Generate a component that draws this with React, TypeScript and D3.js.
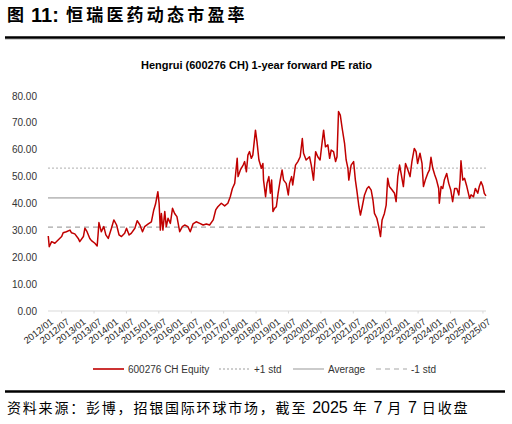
import { useEffect, useRef } from "react";
import * as d3 from "d3";

// Forward PE readings (date, value)
const dates = [
  "2012-01-04", "2012-01-15", "2012-02-11", "2012-03-18", "2012-04-24", "2012-06-03",
  "2012-06-20", "2012-07-26", "2012-09-05", "2012-09-22", "2012-10-29", "2012-12-07",
  "2012-12-24", "2013-02-03", "2013-02-20", "2013-03-16", "2013-04-16", "2013-05-05",
  "2013-06-12", "2013-07-08", "2013-07-18", "2013-07-28", "2013-08-24", "2013-09-21",
  "2013-10-14", "2013-11-10", "2013-12-16", "2014-01-12", "2014-02-12", "2014-03-12",
  "2014-04-08", "2014-05-14", "2014-06-04", "2014-07-03", "2014-07-27", "2014-09-06",
  "2014-10-02", "2014-11-02", "2014-12-01", "2014-12-25", "2015-02-04", "2015-03-11",
  "2015-04-07", "2015-04-27", "2015-05-23", "2015-06-06", "2015-06-20", "2015-07-02",
  "2015-07-19", "2015-08-09", "2015-08-26", "2015-09-15", "2015-10-11", "2015-11-04",
  "2015-11-28", "2015-12-24", "2016-01-24", "2016-02-23", "2016-03-20", "2016-04-26",
  "2016-05-22", "2016-06-22", "2016-07-28", "2016-09-07", "2016-10-14", "2016-11-20",
  "2016-12-26", "2017-02-05", "2017-03-05", "2017-03-29", "2017-05-07", "2017-06-14",
  "2017-07-20", "2017-08-16", "2017-09-09", "2017-10-05", "2017-11-02", "2017-11-12",
  "2017-12-08", "2018-01-08", "2018-01-25", "2018-02-14", "2018-03-03", "2018-03-21",
  "2018-04-10", "2018-04-27", "2018-05-27", "2018-06-13", "2018-07-05", "2018-08-02",
  "2018-08-19", "2018-08-26", "2018-09-18", "2018-10-04", "2018-10-25", "2018-11-11",
  "2018-11-25", "2018-12-10", "2018-12-28", "2019-01-17", "2019-02-06", "2019-03-02",
  "2019-03-23", "2019-04-09", "2019-05-08", "2019-06-01", "2019-06-15", "2019-07-08",
  "2019-07-21", "2019-08-21", "2019-09-17", "2019-10-13", "2019-11-06", "2019-11-20",
  "2019-12-19", "2020-01-26", "2020-02-15", "2020-03-11", "2020-04-04", "2020-04-28",
  "2020-05-24", "2020-06-17", "2020-07-03", "2020-07-24", "2020-08-20", "2020-09-09",
  "2020-09-26", "2020-10-23", "2020-11-15", "2020-12-01", "2020-12-18", "2021-01-07",
  "2021-01-28", "2021-02-24", "2021-03-14", "2021-04-03", "2021-04-13", "2021-05-09",
  "2021-06-06", "2021-06-26", "2021-07-12", "2021-08-05", "2021-08-22", "2021-09-11",
  "2021-10-07", "2021-11-04", "2021-11-25", "2021-12-21", "2022-01-10", "2022-01-27",
  "2022-02-23", "2022-03-16", "2022-04-05", "2022-04-23", "2022-05-19", "2022-06-08",
  "2022-06-25", "2022-07-14", "2022-08-14", "2022-09-10", "2022-09-28", "2022-10-17",
  "2022-11-06", "2022-11-23", "2022-12-19", "2023-01-12", "2023-02-08", "2023-03-04",
  "2023-03-25", "2023-04-21", "2023-05-11", "2023-05-28", "2023-06-24", "2023-07-17",
  "2023-08-02", "2023-08-23", "2023-09-19", "2023-10-09", "2023-10-26", "2023-11-15",
  "2023-12-08", "2023-12-28", "2024-01-21", "2024-01-28", "2024-02-17", "2024-03-07",
  "2024-03-24", "2024-04-20", "2024-05-13", "2024-06-05", "2024-06-26", "2024-07-19",
  "2024-08-12", "2024-09-04", "2024-09-18", "2024-09-28", "2024-10-18", "2024-11-07",
  "2024-12-03", "2025-01-03", "2025-01-20", "2025-02-16", "2025-03-09", "2025-04-05",
  "2025-04-22", "2025-05-12", "2025-06-01", "2025-06-18", "2025-07-07",
];

const peValues = [
  27.9, 23.9, 25.8, 25.2, 26.4, 27.7,
  29.1, 29.5, 30.1, 29.1, 28.7, 27.0,
  25.8, 27.7, 30.8, 29.5, 27.0, 26.2,
  25.2, 24.2, 28.3, 32.9, 29.5, 31.4,
  28.3, 27.0, 30.8, 33.9, 32.0, 28.3,
  27.7, 28.9, 30.8, 28.3, 28.9, 30.8,
  33.6, 32.0, 29.5, 31.4, 32.4, 33.2,
  37.6, 39.8, 44.4, 40.1, 30.1, 36.3,
  30.1, 37.0, 31.4, 34.5, 32.6, 38.2,
  36.3, 35.1, 29.5, 31.4, 32.0, 31.4,
  29.5, 32.4, 33.2, 32.6, 32.0, 32.4,
  32.0, 33.9, 37.6, 38.8, 40.1, 39.1,
  40.1, 42.5, 45.6, 47.5, 56.8, 50.0,
  52.5, 54.3, 55.6, 51.8, 58.0, 59.3,
  56.8, 58.0, 67.3, 63.0, 56.2, 53.1,
  54.9, 48.7, 42.5, 47.5, 50.0, 43.8,
  48.7, 37.0, 38.2, 38.8, 43.8, 48.7,
  52.5, 48.7, 47.5, 43.2, 47.5, 50.0,
  46.9, 54.3, 55.6, 57.4, 64.2, 58.7,
  56.2, 57.4, 54.3, 48.7, 59.3, 57.4,
  56.2, 63.0, 67.3, 61.1, 61.8, 56.8,
  59.9, 59.3, 55.6, 57.4, 74.2, 72.9,
  68.0, 62.4, 56.2, 53.1, 48.7, 54.3,
  55.6, 48.7, 45.0, 38.8, 35.7, 38.8,
  43.2, 45.6, 46.3, 45.0, 41.3, 36.3,
  34.5, 31.4, 27.7, 33.9, 36.3, 39.4,
  49.4, 46.3, 45.0, 43.8, 40.7, 50.0,
  54.3, 51.2, 46.3, 54.9, 52.5, 50.0,
  55.6, 60.5, 59.3, 54.9, 58.7, 54.9,
  46.3, 48.7, 51.2, 52.5, 57.2, 53.1,
  50.6, 48.7, 45.6, 40.1, 46.3, 45.6,
  48.7, 51.2, 47.5, 45.0, 40.7, 45.6,
  45.6, 43.2, 48.7, 55.9, 48.7, 49.4,
  46.3, 41.9, 43.2, 42.5, 45.6, 43.8,
  46.3, 48.1, 46.5, 43.8, 42.8,
];

const plusOneStd = 53.2;
const averagePE = 42.1;
const minusOneStd = 31.2;

const yTicks = [0, 10, 20, 30, 40, 50, 60, 70, 80];

const xLabels = [
  "2012/01", "2012/07", "2013/01", "2013/07", "2014/01", "2014/07", "2015/01",
  "2015/07", "2016/01", "2016/07", "2017/01", "2017/07", "2018/01", "2018/07",
  "2019/01", "2019/07", "2020/01", "2020/07", "2021/01", "2021/07", "2022/01",
  "2022/07", "2023/01", "2023/07", "2024/01", "2024/07", "2025/01", "2025/07",
];

const legendItems = [
  { label: "600276 CH Equity", color: "#c00000", dash: "", width: 1.6 },
  { label: "+1 std", color: "#bfbfbf", dash: "2,2", width: 1.3 },
  { label: "Average", color: "#bfbfbf", dash: "", width: 1.6 },
  { label: "-1 std", color: "#a6a6a6", dash: "5,4", width: 1.2 },
];

const FONT = "'Liberation Sans', Arial, Helvetica, sans-serif";
const CJK = "'Noto Sans CJK SC', 'Noto Sans', sans-serif";

interface Point {
  date: Date;
  value: number;
}

export default function App() {
  const svgRef = useRef<SVGSVGElement>(null);

  useEffect(() => {
    if (!svgRef.current) return;
    const svg = d3.select(svgRef.current);
    svg.selectAll("*").remove();

    const width = 512;
    const height = 424;
    const left = 48;
    const right = 486;
    const top = 96;
    const bottom = 311;

    svg.attr("width", width).attr("height", height);
    svg.append("rect").attr("width", width).attr("height", height).attr("fill", "#fff");

    const parse = d3.timeParse("%Y-%m-%d");
    const data: Point[] = dates.map((d, i) => ({ date: parse(d) as Date, value: peValues[i] }));

    const x = d3
      .scaleTime()
      .domain([parse("2012-01-01") as Date, parse("2025-07-07") as Date])
      .range([left, right]);
    const y = d3.scaleLinear().domain([0, 80]).range([bottom, top]);

    // Heading
    svg
      .append("text")
      .attr("x", 7)
      .attr("y", 21)
      .style("font-family", CJK)
      .style("font-size", "17px")
      .style("font-weight", "bold")
      .text("图");
    svg
      .append("text")
      .attr("x", 31)
      .attr("y", 21.5)
      .style("font-family", FONT)
      .style("font-size", "20px")
      .style("font-weight", "bold")
      .text("11:");
    svg
      .append("text")
      .attr("x", 66)
      .attr("y", 21)
      .style("font-family", CJK)
      .style("font-size", "17px")
      .style("font-weight", "bold")
      .style("letter-spacing", "3.2px")
      .text("恒瑞医药动态市盈率");

    svg
      .append("line")
      .attr("x1", 5)
      .attr("x2", 505)
      .attr("y1", 37.5)
      .attr("y2", 37.5)
      .attr("stroke", "#000")
      .attr("stroke-width", 2.5);
    svg
      .append("line")
      .attr("x1", 5)
      .attr("x2", 505)
      .attr("y1", 39.5)
      .attr("y2", 39.5)
      .attr("stroke", "#d0d0d0")
      .attr("stroke-width", 1);

    // Chart title
    svg
      .append("text")
      .attr("x", 256.5)
      .attr("y", 69)
      .attr("text-anchor", "middle")
      .style("font-family", FONT)
      .style("font-size", "11px")
      .style("font-weight", "bold")
      .attr("fill", "#000")
      .text("Hengrui (600276 CH) 1-year forward PE ratio");

    // Y axis labels
    svg
      .append("g")
      .selectAll("text")
      .data(yTicks)
      .join("text")
      .attr("x", 37)
      .attr("y", (d) => y(d))
      .attr("dy", "0.35em")
      .attr("text-anchor", "end")
      .style("font-family", FONT)
      .style("font-size", "10px")
      .attr("fill", "#333")
      .text((d) => d3.format(".2f")(d));

    // Baseline
    svg
      .append("line")
      .attr("x1", left)
      .attr("x2", right)
      .attr("y1", y(0))
      .attr("y2", y(0))
      .attr("stroke", "#d9d9d9")
      .attr("stroke-width", 1);

    // X labels and yearly tick marks
    const labelDates = xLabels.map((l) => d3.timeParse("%Y/%m")(l) as Date);
    svg
      .append("g")
      .selectAll("line")
      .data(labelDates.filter((d) => d.getMonth() === 6))
      .join("line")
      .attr("x1", (d) => x(d) - 2.5)
      .attr("x2", (d) => x(d) - 2.5)
      .attr("y1", y(0))
      .attr("y2", y(0) + 2.5)
      .attr("stroke", "#d9d9d9");

    svg
      .append("g")
      .selectAll("text")
      .data(xLabels)
      .join("text")
      .attr("text-anchor", "end")
      .attr("transform", (_, i) => `translate(${x(labelDates[i]) + 6},${y(0) + 12}) rotate(-38)`)
      .style("font-family", FONT)
      .style("font-size", "9.5px")
      .attr("fill", "#262626")
      .text((d) => d);

    // Reference lines
    const refLines = [
      { v: plusOneStd, color: "#bfbfbf", dash: "2,2", w: 1.3 },
      { v: averagePE, color: "#bfbfbf", dash: "", w: 1.6 },
      { v: minusOneStd, color: "#a6a6a6", dash: "5,4", w: 1.2 },
    ];
    svg
      .append("g")
      .selectAll("line")
      .data(refLines)
      .join("line")
      .attr("x1", left)
      .attr("x2", right)
      .attr("y1", (d) => y(d.v))
      .attr("y2", (d) => y(d.v))
      .attr("stroke", (d) => d.color)
      .attr("stroke-width", (d) => d.w)
      .attr("stroke-dasharray", (d) => d.dash);

    // PE line
    const line = d3
      .line<Point>()
      .x((d) => x(d.date))
      .y((d) => y(d.value));
    svg
      .append("path")
      .datum(data)
      .attr("fill", "none")
      .attr("stroke", "#c00000")
      .attr("stroke-width", 1.5)
      .attr("stroke-linejoin", "round")
      .attr("d", line);

    // Legend
    const legendX = [93, 219, 293, 376];
    const legend = svg
      .append("g")
      .selectAll("g")
      .data(legendItems)
      .join("g")
      .attr("transform", (_, i) => `translate(${legendX[i]},369)`);
    legend
      .append("line")
      .attr("x1", 0)
      .attr("x2", 31)
      .attr("stroke", (d) => d.color)
      .attr("stroke-width", (d) => d.width)
      .attr("stroke-dasharray", (d) => d.dash);
    legend
      .append("text")
      .attr("x", 35)
      .attr("dy", "0.35em")
      .style("font-family", FONT)
      .style("font-size", "10px")
      .attr("fill", "#333")
      .text((d) => d.label);

    // Footer
    svg
      .append("line")
      .attr("x1", 5)
      .attr("x2", 505)
      .attr("y1", 391.5)
      .attr("y2", 391.5)
      .attr("stroke", "#000")
      .attr("stroke-width", 2.5);

    const footer = svg
      .append("text")
      .attr("x", 7)
      .attr("y", 413)
      .attr("fill", "#000")
      .style("font-family", CJK)
      .style("font-size", "14px");
    const parts: [string, boolean][] = [
      ["资料来源：彭博，招银国际环球市场，截至 ", false],
      ["2025", true],
      [" 年 ", false],
      ["7", true],
      [" 月 ", false],
      ["7", true],
      [" 日收盘", false],
    ];
    parts.forEach(([t, isNum]) => {
      const ts = footer.append("tspan").text(t);
      if (isNum) ts.style("font-family", FONT).style("font-size", "16px");
      else ts.style("letter-spacing", "1.8px");
    });
  }, []);

  return (
    <div style={{ position: "absolute", left: 0, top: 0 }}>
      <svg ref={svgRef} viewBox="0 0 512 424" style={{ display: "block" }} />
    </div>
  );
}
